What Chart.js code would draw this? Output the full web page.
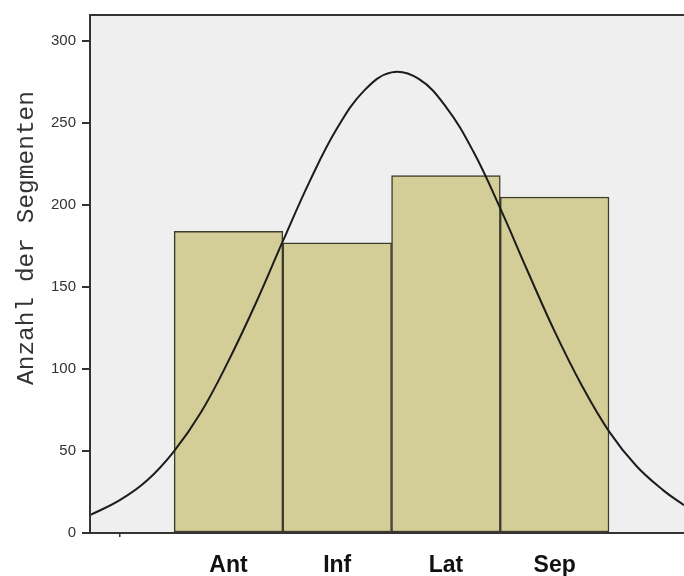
<!DOCTYPE html>
<html lang="de">
<head>
<meta charset="UTF-8">
<title>Anzahl der Segmenten</title>
<script src="https://cdn.jsdelivr.net/npm/chart.js@4"></script>
<style>
    body { margin: 0; padding: 0; background: #fff; }
</style>
</head>
<body>
<canvas id="chart" width="684" height="576"></canvas>
<script>
// Balken: Anzahl pro Segmentgruppe
const categories = ['Ant', 'Inf', 'Lat', 'Sep'];
const categoryPos = [1, 2, 3, 4];
const counts = [184, 177, 218, 205];

// Normalverteilungskurve
const curveX = [-0.27, 0, 0.25, 0.5, 0.75, 1, 1.25, 1.5, 1.75, 2, 2.25, 2.5, 2.75, 3, 3.25, 3.5, 3.75, 4, 4.25, 4.5, 4.75, 5, 5.19];
const curveY = [11, 20, 32, 50, 74, 105, 140, 178, 215, 247, 270, 281, 277, 260, 233, 198, 160, 123, 90, 62, 41, 26, 17];

const yTicks = [0, 50, 100, 150, 200, 250, 300];
const xTicks = [0, 1, 2, 3, 4];
const yTitle = 'Anzahl der Segmenten';

const frame = {
    id: 'frame',
    beforeDraw(chart) {
        const {ctx, chartArea: a} = chart;
        ctx.save();
        ctx.fillStyle = '#efefef';
        ctx.fillRect(a.left, a.top, a.right - a.left, a.bottom - a.top);
        ctx.restore();
    },
    afterDraw(chart) {
        const {ctx, chartArea: a} = chart;
        ctx.save();
        ctx.strokeStyle = '#333';
        ctx.lineWidth = 2;
        ctx.beginPath();
        ctx.moveTo(a.left, a.bottom);
        ctx.lineTo(a.left, a.top);
        ctx.lineTo(a.right, a.top);
        ctx.moveTo(a.left, a.bottom);
        ctx.lineTo(a.right, a.bottom);
        ctx.stroke();

        // y axis title, sits a bit above the middle like the original
        ctx.translate(27, 238);
        ctx.rotate(-Math.PI / 2);
        ctx.fillStyle = '#333';
        ctx.font = '24.5px "Liberation Mono", "Courier New", monospace';
        ctx.textAlign = 'center';
        ctx.textBaseline = 'middle';
        ctx.fillText(yTitle, 0, 0);
        ctx.restore();
    }
};

new Chart(document.getElementById('chart'), {
    type: 'bar',
    data: {
        datasets: [
            {
                type: 'line',
                data: curveX.map((x, i) => ({x: x, y: curveY[i]})),
                borderColor: '#1c1c1c',
                borderWidth: 2,
                pointRadius: 0,
                tension: 0.4,
                fill: false,
                order: 0
            },
            {
                type: 'bar',
                data: categoryPos.map((x, i) => ({x: x, y: counts[i]})),
                backgroundColor: '#d3ce97',
                borderColor: '#3d3b2c',
                borderWidth: 1.5,
                borderSkipped: false,
                barPercentage: 1,
                categoryPercentage: 1,
                order: 1
            }
        ]
    },
    options: {
        responsive: false,
        animation: false,
        devicePixelRatio: 1,
        layout: { padding: { top: 13, right: 0, left: 0, bottom: 0 } },
        plugins: {
            legend: { display: false },
            tooltip: { enabled: false }
        },
        scales: {
            x: {
                type: 'linear',
                offset: false,
                min: -0.274,
                max: 5.19,
                afterFit: s => { s.height = 43; },
                afterBuildTicks: s => { s.ticks = xTicks.map(v => ({value: v})); },
                grid: {
                    offset: false,
                    drawOnChartArea: false,
                    drawTicks: true,
                    tickLength: 4,
                    color: ctx => ctx.tick && ctx.tick.value === 0 ? '#333' : 'rgba(0,0,0,0)',
                    lineWidth: 1.5
                },
                border: { display: false },
                ticks: {
                    padding: 15,
                    maxRotation: 0,
                    autoSkip: false,
                    color: '#111',
                    font: { family: 'Liberation Sans, Arial, sans-serif', size: 23, weight: 'bold' },
                    callback: v => v >= 1 && v <= 4 ? categories[v - 1] : ''
                }
            },
            y: {
                min: 0,
                max: 316,
                afterFit: s => { s.width = 90; },
                afterBuildTicks: s => { s.ticks = yTicks.map(v => ({value: v})); },
                grid: {
                    drawOnChartArea: false,
                    drawTicks: true,
                    tickLength: 8,
                    color: '#333',
                    lineWidth: 2
                },
                border: { display: false },
                ticks: {
                    padding: 6,
                    color: '#333',
                    font: { family: 'Liberation Sans, Arial, sans-serif', size: 15 }
                }
            }
        }
    },
    plugins: [frame]
});
</script>
</body>
</html>
